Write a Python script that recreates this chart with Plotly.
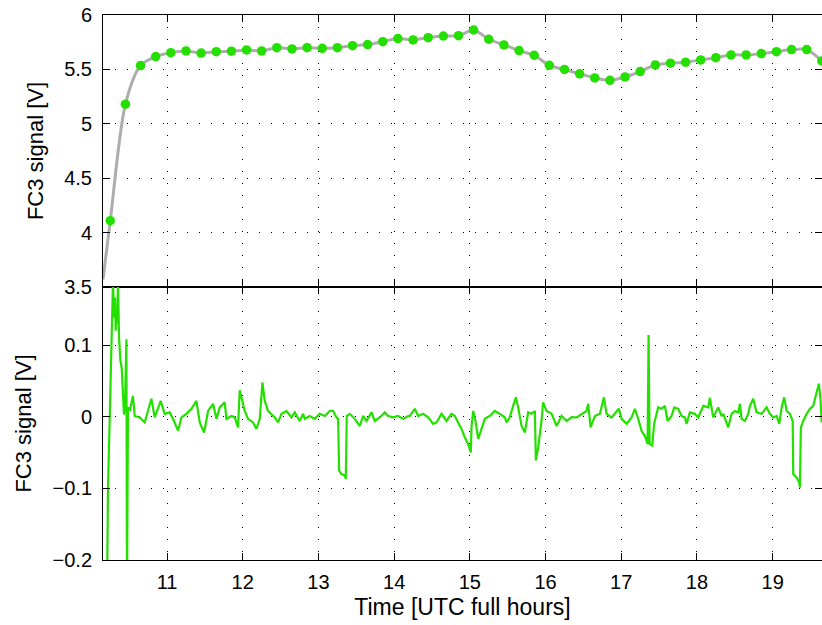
import plotly.graph_objects as go

# ---------------- data ----------------
# top panel: sampled points (every 12 min) and smooth fit curve
pts_t = [10.25, 10.45, 10.65, 10.85, 11.05, 11.25, 11.45, 11.65, 11.85, 12.05,
         12.25, 12.45, 12.65, 12.85, 13.05, 13.25, 13.45, 13.65, 13.85, 14.05,
         14.25, 14.45, 14.65, 14.85, 15.05, 15.25, 15.45, 15.65, 15.85, 16.05,
         16.25, 16.45, 16.65, 16.85, 17.05, 17.25, 17.45, 17.65, 17.85, 18.05,
         18.25, 18.45, 18.65, 18.85, 19.05, 19.25, 19.45, 19.65]
pts_v = [4.11, 5.18, 5.535, 5.618, 5.654, 5.67, 5.65, 5.663, 5.667, 5.679,
         5.67, 5.70, 5.688, 5.70, 5.694, 5.70, 5.718, 5.728, 5.755, 5.783,
         5.771, 5.792, 5.807, 5.81, 5.862, 5.777, 5.725, 5.673, 5.63, 5.538,
         5.50, 5.459, 5.422, 5.40, 5.431, 5.48, 5.541, 5.557, 5.566, 5.587,
         5.608, 5.633, 5.633, 5.645, 5.663, 5.682, 5.682, 5.578]
fit_t = [10.154] + pts_t
fit_v = [3.57] + pts_v

# bottom panel: residual signal
res_t = [10.207, 10.220, 10.242, 10.256, 10.269, 10.286, 10.299, 10.313, 10.322, 10.331,
         10.342, 10.352, 10.366, 10.384, 10.401, 10.418, 10.431, 10.445, 10.463, 10.471,
         10.484, 10.507, 10.550, 10.573, 10.639, 10.705, 10.793, 10.837, 10.916, 10.969,
         11.035, 11.079, 11.145, 11.190, 11.256, 11.322, 11.388, 11.432, 11.489, 11.542,
         11.608, 11.653, 11.696, 11.762, 11.785, 11.851, 11.894, 11.938, 11.960, 11.983,
         12.026, 12.070, 12.136, 12.181, 12.225, 12.260, 12.291, 12.334, 12.423, 12.467,
         12.512, 12.578, 12.644, 12.687, 12.753, 12.797, 12.819, 12.885, 12.951, 13.017,
         13.084, 13.150, 13.193, 13.238, 13.260, 13.273, 13.304, 13.348, 13.361, 13.374,
         13.414, 13.480, 13.546, 13.590, 13.635, 13.701, 13.744, 13.810, 13.877, 13.920,
         13.986, 14.052, 14.118, 14.185, 14.207, 14.273, 14.317, 14.383, 14.449, 14.515,
         14.560, 14.626, 14.692, 14.758, 14.802, 14.845, 14.890, 14.934, 14.977, 15.013,
         15.022, 15.044, 15.075, 15.110, 15.155, 15.198, 15.264, 15.330, 15.396, 15.463,
         15.485, 15.528, 15.572, 15.608, 15.638, 15.683, 15.727, 15.770, 15.815, 15.859,
         15.872, 15.903, 15.947, 15.968, 16.014, 16.080, 16.146, 16.212, 16.278, 16.344,
         16.410, 16.476, 16.542, 16.563, 16.595, 16.652, 16.718, 16.771, 16.806, 16.872,
         16.916, 16.969, 17.004, 17.071, 17.137, 17.180, 17.224, 17.269, 17.313, 17.348,
         17.361, 17.375, 17.409, 17.435, 17.467, 17.488, 17.533, 17.577, 17.612, 17.665,
         17.700, 17.753, 17.797, 17.841, 17.863, 17.907, 17.973, 18.017, 18.083, 18.149,
         18.171, 18.215, 18.281, 18.326, 18.348, 18.392, 18.413, 18.458, 18.502, 18.545,
         18.568, 18.590, 18.634, 18.677, 18.700, 18.743, 18.788, 18.854, 18.920, 18.964,
         19.008, 19.053, 19.087, 19.119, 19.153, 19.185, 19.229, 19.265, 19.272, 19.317,
         19.351, 19.360, 19.373, 19.404, 19.449, 19.493, 19.536, 19.581, 19.612, 19.634,
         19.648]
res_v = [-0.25, -0.099, -0.006, 0.064, 0.134, 0.19, 0.138, 0.166, 0.12, 0.15,
         0.13, 0.19, 0.110, 0.078, 0.068, 0.040, 0.003, 0.017, 0.108, -0.25,
         0.013, 0.008, 0.029, 0.001, -0.001, -0.008, 0.025, -0.001, 0.022, 0.004,
         0.006, -0.003, -0.0195, -0.001, 0.004, 0.011, 0.022, -0.008, -0.022, 0.008,
         0.018, -0.003, 0.013, 0.020, -0.003, 0.001, -0.001, -0.015, 0.037, 0.027,
         0.008, -0.003, -0.008, -0.017, -0.003, 0.048, 0.022, 0.008, -0.001, -0.008,
         0.004, 0.008, -0.001, 0.006, -0.006, 0.004, -0.003, 0.001, -0.003, 0.004,
         0.001, 0.008, 0.008, -0.001, -0.003, -0.075, -0.080, -0.082, -0.087, 0.001,
         0.004, -0.003, -0.013, 0.001, -0.006, 0.006, -0.006, -0.001, 0.006, 0.001,
         -0.001, 0.001, -0.003, 0.001, 0.001, 0.011, 0.001, 0.004, -0.001, -0.010,
         -0.008, 0.004, -0.006, 0.004, 0.001, -0.008, -0.017, -0.029, -0.038, -0.050,
         -0.015, 0.008, -0.006, -0.031, -0.015, -0.003, 0.001, 0.008, 0.004, -0.001,
         -0.008, -0.001, 0.015, 0.027, 0.013, -0.013, -0.022, 0.006, 0.004, 0.008,
         -0.061, -0.043, -0.006, 0.020, 0.008, 0.004, -0.013, 0.001, -0.006, -0.001,
         -0.001, 0.004, 0.008, 0.018, -0.015, 0.001, 0.004, 0.027, 0.004, -0.001,
         0.004, 0.011, -0.003, -0.010, -0.001, 0.011, -0.003, -0.020, -0.027, -0.038,
         0.114, -0.038, -0.040, -0.010, 0.004, 0.013, 0.011, 0.015, -0.006, 0.001,
         0.013, 0.011, 0.001, -0.001, -0.010, 0.006, 0.004, -0.001, 0.015, 0.013,
         0.026, -0.001, 0.013, 0.001, 0.004, -0.010, -0.015, 0.004, 0.008, 0.006,
         0.018, -0.003, -0.006, 0.004, 0.015, 0.025, 0.006, 0.004, 0.013, 0.004,
         -0.001, 0.001, -0.010, 0.013, 0.027, 0.008, 0.004, -0.006, -0.080, -0.085,
         -0.092, -0.099, -0.015, -0.006, 0.004, 0.011, 0.015, 0.034, 0.046, 0.022,
         -0.008]

x_ticks = [11, 12, 13, 14, 15, 16, 17, 18, 19]
top_ticks = [3.5, 4, 4.5, 5, 5.5, 6]
bot_ticks = [-0.2, -0.1, 0, 0.1]

# ---------------- figure ----------------
GREEN = "#24e000"
FONT = "Liberation Sans"
x_range = [10.154, 19.652]

fig = go.Figure()
fig.add_trace(go.Scatter(x=fit_t, y=fit_v, mode="lines",
                         line=dict(color="#adadad", width=3, shape="spline", smoothing=0.8),
                         xaxis="x", yaxis="y", showlegend=False, hoverinfo="skip"))
fig.add_trace(go.Scatter(x=pts_t, y=pts_v, mode="markers",
                         marker=dict(color=GREEN, size=9.5, line=dict(width=0)),
                         xaxis="x", yaxis="y", showlegend=False))
fig.add_trace(go.Scatter(x=res_t, y=res_v, mode="lines", line=dict(color=GREEN, width=2.2),
                         xaxis="x2", yaxis="y2", showlegend=False))

common_axis = dict(showline=True, linecolor="black", linewidth=1, mirror="allticks",
                   ticks="inside", ticklen=7, tickcolor="black", tickwidth=1,
                   showgrid=True, gridcolor="black", gridwidth=1, griddash="1px,11px",
                   zeroline=False, tickfont=dict(family=FONT, size=20, color="black"))

split = 273 / 545
fig.update_layout(
    width=822, height=625,
    margin=dict(l=103, r=0, t=15, b=65),
    paper_bgcolor="white", plot_bgcolor="white",
    font=dict(family=FONT, color="black"),
    xaxis=dict(domain=[0, 1], anchor="y", range=x_range, tickvals=x_ticks, showticklabels=False, **common_axis),
    yaxis=dict(domain=[split, 1], anchor="x", range=[3.5, 6], tickvals=top_ticks,
               ticktext=["3.5", "4", "4.5", "5", "5.5", "6"], ticklabelstandoff=6,
               title=dict(text="FC3 signal [V]", font=dict(family=FONT, size=22), standoff=14), **common_axis),
    xaxis2=dict(domain=[0, 1], anchor="y2", range=x_range, tickvals=x_ticks, ticklabelstandoff=4,
                title=dict(text="Time [UTC full hours]", font=dict(family=FONT, size=23), standoff=6), **common_axis),
    yaxis2=dict(domain=[0, split], anchor="x2", range=[-0.2, 0.181], tickvals=bot_ticks,
                ticktext=["\u22120.2", "\u22120.1", "0", "0.1"], ticklabelstandoff=6,
                title=dict(text="FC3 signal [V]", font=dict(family=FONT, size=22), standoff=14), **common_axis),
)

fig.write_html("out.html")
